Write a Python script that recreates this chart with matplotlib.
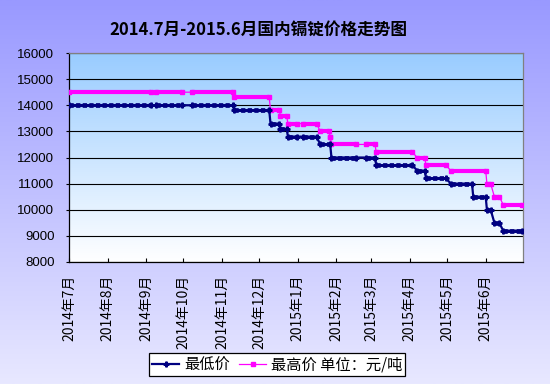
import matplotlib
matplotlib.use('Agg')
import matplotlib.pyplot as plt
import matplotlib.dates as mdates
import numpy as np

plt.rcParams['font.family'] = ['Noto Sans CJK SC', 'DejaVu Sans']

title = '2014.7月-2015.6月国内镉锭价格走势图'

tick_dates = ['2014-07-01', '2014-08-01', '2014-09-01', '2014-10-01', '2014-11-01', '2014-12-01',
              '2015-01-01', '2015-02-01', '2015-03-01', '2015-04-01', '2015-05-01', '2015-06-01']
tick_labels = ['2014年7月', '2014年8月', '2014年9月', '2014年10月', '2014年11月', '2014年12月',
               '2015年1月', '2015年2月', '2015年3月', '2015年4月', '2015年5月', '2015年6月']
y_ticks = [8000, 9000, 10000, 11000, 12000, 13000, 14000, 15000, 16000]

# constant-price periods (first trading day, last trading day, price)
low_start = ['2014-07-01', '2014-09-09', '2014-10-08', '2014-11-11', '2014-12-10', '2014-12-18',
             '2014-12-24', '2015-01-05', '2015-01-19', '2015-01-28', '2015-02-25', '2015-03-05',
             '2015-04-07', '2015-04-14', '2015-05-04', '2015-05-22', '2015-06-02', '2015-06-08',
             '2015-06-15']
low_end = ['2014-09-05', '2014-09-30', '2014-11-10', '2014-12-09', '2014-12-17', '2014-12-23',
           '2014-12-31', '2015-01-16', '2015-01-27', '2015-02-17', '2015-03-04', '2015-04-03',
           '2015-04-13', '2015-04-30', '2015-05-21', '2015-06-01', '2015-06-05', '2015-06-12',
           '2015-06-30']
low_value = [14000, 14000, 14000, 13800, 13300, 13100,
             12800, 12800, 12500, 12000, 12000, 11700,
             11500, 11200, 11000, 10500, 10000, 9500,
             9200]

high_start = ['2014-07-01', '2014-09-09', '2014-10-08', '2014-11-11', '2014-12-10', '2014-12-18',
              '2014-12-24', '2015-01-05', '2015-01-19', '2015-01-27', '2015-01-28', '2015-02-25',
              '2015-03-05', '2015-04-07', '2015-04-14', '2015-05-04', '2015-06-02', '2015-06-08',
              '2015-06-15']
high_end = ['2014-09-05', '2014-09-30', '2014-11-10', '2014-12-09', '2014-12-17', '2014-12-23',
            '2014-12-31', '2015-01-16', '2015-01-26', '2015-01-27', '2015-02-17', '2015-03-04',
            '2015-04-03', '2015-04-13', '2015-04-30', '2015-06-01', '2015-06-05', '2015-06-12',
            '2015-06-30']
high_value = [14500, 14500, 14500, 14300, 13800, 13600,
              13300, 13300, 13000, 12800, 12500, 12500,
              12200, 12000, 11700, 11500, 11000, 10500,
              10200]

low_name = '最低价'
high_name = '最高价 单位：元/吨'


def d(s):
    return mdates.datestr2num(s)


def build(starts, ends, values):
    xs, ys, bx, by = [], [], [], []
    for s, e, v in zip(starts, ends, values):
        xs += [d(s), d(e)]
        ys += [v, v]
        bx += [d(s), d(e), np.nan]
        by += [v, v, np.nan]
    return xs, ys, bx, by


W, H = 550, 384
fig = plt.figure(figsize=(W / 100, H / 100), dpi=100)

# figure background gradient
bg = fig.add_axes([0, 0, 1, 1], zorder=-10)
top_c = np.array([153, 153, 255]) / 255
bot_c = np.array([232, 232, 255]) / 255
t = np.linspace(0, 1, 256)[:, None]
grad = top_c[None, :] * (1 - t) + bot_c[None, :] * t
bg.imshow(grad[:, None, :], aspect='auto', extent=[0, 1, 0, 1])
bg.set_axis_off()

x0, x1, y0, y1 = 69, 523, 53, 262
rect = [x0 / W, 1 - y1 / H, (x1 - x0) / W, (y1 - y0) / H]

pa = fig.add_axes(rect, zorder=-5)
ptop = np.array([153, 204, 255]) / 255
pbot = np.array([255, 255, 255]) / 255
pgrad = ptop[None, :] * (1 - t) + pbot[None, :] * t
pa.imshow(pgrad[:, None, :], aspect='auto', extent=[0, 1, 0, 1])
pa.set_axis_off()

ax = fig.add_axes(rect)
ax.set_facecolor('none')

lx, ly, lbx, lby = build(low_start, low_end, low_value)
hx, hy, hbx, hby = build(high_start, high_end, high_value)

# high series
ax.plot(hx, hy, color='#FF00FF', lw=0.9, marker='s', ms=3, mec='#FF00FF', label=high_name, zorder=3)
ax.plot(hbx, hby, color='#FF00FF', lw=3.0, solid_capstyle='butt', zorder=3)
# low series
ax.plot(lx, ly, color='#000080', lw=1.6, marker='P', ms=3.5, mec='#000080', label=low_name, zorder=4)
ax.plot(lbx, lby, color='#000080', lw=2.2, solid_capstyle='butt', zorder=4)
ax.plot(lbx, lby, color='#000080', lw=3.4, dashes=(0.9, 0.5), zorder=4)

ax.set_xlim(d('2014-07-01'), d('2015-07-01'))
ax.set_ylim(y_ticks[0], y_ticks[-1])
ax.set_yticks(y_ticks)
ax.set_yticklabels([str(v) for v in y_ticks], fontfamily=['Liberation Sans'], fontsize=9.5)
ax.yaxis.grid(True, color='black', lw=0.8)
ax.set_axisbelow(True)
ax.set_xticks([d(s) for s in tick_dates])
ax.set_xticklabels(tick_labels, rotation=90, fontsize=10, va='top', ha='center')
ax.tick_params(axis='y', direction='out', length=2.5, width=0.8, pad=8, left=True, right=False)
ax.tick_params(axis='x', direction='in', length=3, width=0.8, pad=9)
for s in ['left', 'bottom']:
    ax.spines[s].set_color('black')
    ax.spines[s].set_linewidth(0.9)
for s in ['top', 'right']:
    ax.spines[s].set_color('#808080')
    ax.spines[s].set_linewidth(0.9)

fig.text(258 / W, 1 - 30 / H, title, ha='center', va='center', fontsize=12, fontweight='bold')

handles, labels = ax.get_legend_handles_labels()
order = [labels.index(low_name), labels.index(high_name)]
leg = fig.legend([handles[i] for i in order], [labels[i] for i in order],
                 loc='center', bbox_to_anchor=(277 / W, 1 - 364.5 / H), ncol=2,
                 fontsize=11, frameon=True, fancybox=False, edgecolor='black',
                 facecolor='white', framealpha=1, handlelength=1.8, handletextpad=0.3,
                 columnspacing=0.6, borderpad=0.2, borderaxespad=0)
leg.get_frame().set_linewidth(0.9)
leg.set_zorder(20)

fig.savefig('out.png', dpi=100)
